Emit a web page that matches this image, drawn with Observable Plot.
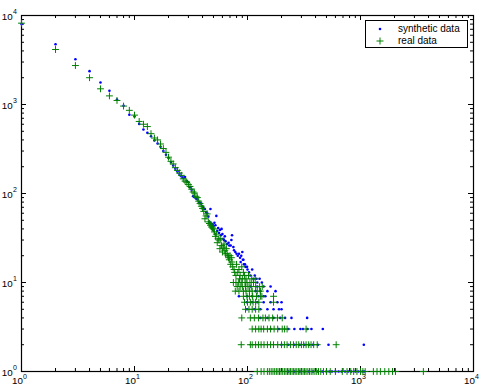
<!DOCTYPE html>
<html>
<head>
<meta charset="utf-8">
<script src="https://cdn.jsdelivr.net/npm/d3@7"></script>
<script src="https://cdn.jsdelivr.net/npm/@observablehq/plot@0.6"></script>
<style>
  html, body { margin: 0; padding: 0; background: #fff; }
  #wrap { position: relative; width: 482px; height: 389px; font-family: "Liberation Sans", Arial, Helvetica, sans-serif; }
  #legend { position: absolute; left: 365px; top: 20px; width: 101px; height: 26px; border: 1px solid #000; background: #fff; font-size: 10px; }
  #legend span { position: absolute; left: 32px; line-height: 12px; white-space: nowrap; }
  #legend svg { position: absolute; left: 0; top: 0; }
</style>
</head>
<body>
<div id="wrap"></div>
<script>
// ---- tick labels ----
const tickValues = [1, 10, 100, 1000, 10000];
const tickBase = ["10", "10", "10", "10", "10"];
const tickExponents = ["0", "1", "2", "3", "4"];

// ---- synthetic data: [degree, count] ----
const synthCurve = [
  [1,8000],[2,4760],[3,3230],[4,2370],[5,1770],[6,1425],[7,1140],[8,970],[9,766],[10,732],
  [11,605],[12,524],[13,480],[14,440],[15,395],[16,365],[17,335],[18,300],[19,272],[20,250],
  [21,226],[22,206],[23,190],[24,178],[25,166],[26,156],[27,150],[28,153],[29,138],[30,134],
  [31,118],[32,110],[33,93],[34,91],[35,88],[36,86],[37,80],[38,78],[39,77],[40,72],
  [41,68],[42,67],[43,62],[44,60],[45,55],[46,48],[47,67],[48,46],[49,45],[50,43],
  [51,47],[52,44],[53,56],[54,38],[55,41],[56,36],[57,39],[58,34],[59,40],[60,35],
  [61,31],[62,30],[63,33],[64,29],[66,27],[68,28],[69,26],[71,26],[72,30],[73,34],
  [75,25],[76,23],[78,22],[80,21],[82,20],[84,21],[86,19],[87,17],[88,20],[90,22],
  [91,18],[92,18],[93,16],[95,16],[96,15],[99,15],[100,14],[103,13],[106,12],[110,14],
  [113,11],[116,12],[120,11],[122,10],[128,11],[134,10]
];
// synthetic data at small counts: [count, degrees]
const synthLevels = [
  [9, [106, 122, 139, 160]],
  [8, [118, 130, 150, 177]],
  [7, [84, 99, 110, 125, 139, 144]],
  [6, [99, 110, 122, 139, 160, 184, 200]],
  [5, [99, 115, 130, 150, 170, 190, 200]],
  [4, [130, 150, 170, 195, 215, 245, 337]],
  [3, [160, 190, 230, 260, 294, 310, 340, 368, 464]],
  [2, [200, 230, 260, 290, 320, 350, 380, 420, 521, 1070]],
  [1, [230, 260, 290, 320, 350, 380, 420, 460, 500, 530, 560, 600, 640, 680, 730, 780, 830, 900, 960, 1040, 1080]]
];

// ---- real data: [degree, count] ----
const realCurve = [
  [1,8200],[2,4150],[3,2740],[4,2000],[5,1500],[6,1250],[7,1110],[8,960],[9,860],[10,760],
  [11,645],[12,600],[13,565],[14,470],[15,420],[16,400],[17,360],[18,320],[19,290],[20,256],
  [21,230],[22,215],[23,195],[24,182],[25,170],[26,160],[27,146],[28,138],[29,134],[30,126],
  [31,120],[32,112],[33,104],[34,101],[35,93],[36,90],[37,82],[38,77],[39,72],[40,68],
  [41,63],[42,52],[43,56],[44,59],[45,48],[46,46],[47,44],[48,42],[49,41],[50,40],
  [51,37],[52,33],[53,35],[54,28],[55,31],[56,30],[57,24],[58,31],[59,26],[60,22],
  [61,25],[62,27],[63,23],[64,21],[65,24],[66,21],[67,20],[68,19],[69,18],[70,20],
  [71,16],[72,19],[73,17],[74,15],[76,14],[77,13],[79,12],[80,16],[82,13],[84,14],
  [85,11],[86,12],[89,15],[90,11],[92,13],[94,12],[97,11],[102,12],[109,11],[117,11]
];
// real data at small counts: [count, degrees]
const realLevels = [
  [10, [75, 79, 83, 88, 95, 99, 105, 113]],
  [9, [81, 86, 90, 96, 101, 108, 118, 128, 135]],
  [8, [78, 84, 92, 97, 104, 110, 122, 130]],
  [7, [92, 99, 104, 111, 120, 130, 134, 170]],
  [6, [94, 100, 106, 112, 118, 126, 170]],
  [5, [96, 103, 110, 118, 126]],
  [4, [89, 106, 115, 125, 137, 144, 155, 167, 184, 203]],
  [3, [110, 118, 126, 132, 139, 150, 160, 172, 185, 203, 213, 224, 330]],
  [2, [88, 106, 110, 118, 125, 132, 140, 150, 160, 170, 185, 200, 212, 224, 240, 255, 270, 284, 300, 314, 330, 348, 365, 385, 414, 609]],
  [1, [122, 132, 140, 150, 156, 162, 168, 174, 180, 186, 192, 198, 205, 212, 219, 226, 233, 240, 248, 256, 264, 273, 282, 291, 300, 310, 320, 330, 342, 354, 366, 380, 395, 410, 425, 445, 470, 500, 540, 600, 690, 760, 820, 870, 930, 1000, 1050, 1100, 1300, 1400, 1500, 1640, 1780, 1920, 2040, 3600]]
];

// ---- build tables ----
const toRows = (curve, levels) => curve.map(([k, c]) => ({k, c}))
  .concat(levels.flatMap(([c, ks]) => ks.map(k => ({k, c}))));
const synth = toRows(synthCurve, synthLevels);
const real = toRows(realCurve, realLevels);

const W = 482, H = 389, mL = 21, mR = 9, mT = 15, mB = 18;
const innerH = H - mT - mB, innerW = W - mL - mR;
const minorTicks = tickValues.slice(0, -1).flatMap(v => [2,3,4,5,6,7,8,9].map(m => v * m));
const majLen = 5, minLen = 3;
const tickIdx = tickValues.map((d, i) => i);

const chart = Plot.plot({
  width: W, height: H,
  marginLeft: mL, marginRight: mR, marginTop: mT, marginBottom: mB,
  x: {type: "log", domain: [1, 1e4], axis: null},
  y: {type: "log", domain: [1, 1e4], axis: null},
  style: {fontFamily: '"Liberation Sans", Arial, Helvetica, sans-serif', fontSize: "10px", color: "#000", background: "#fff", overflow: "visible"},
  marks: [
    // inward ticks on all four sides
    Plot.tickX(tickValues, {x: d => d, insetTop: innerH - majLen, stroke: "#000"}),
    Plot.tickX(minorTicks, {x: d => d, insetTop: innerH - minLen, stroke: "#000"}),
    Plot.tickX(tickValues, {x: d => d, insetBottom: innerH - majLen, stroke: "#000"}),
    Plot.tickX(minorTicks, {x: d => d, insetBottom: innerH - minLen, stroke: "#000"}),
    Plot.tickY(tickValues, {y: d => d, insetRight: innerW - majLen, stroke: "#000"}),
    Plot.tickY(minorTicks, {y: d => d, insetRight: innerW - minLen, stroke: "#000"}),
    Plot.tickY(tickValues, {y: d => d, insetLeft: innerW - majLen, stroke: "#000"}),
    Plot.tickY(minorTicks, {y: d => d, insetLeft: innerW - minLen, stroke: "#000"}),
    Plot.frame({stroke: "#000", strokeWidth: 1.2}),
    // x tick labels
    Plot.text(tickIdx, {x: i => tickValues[i], frameAnchor: "bottom", text: i => tickBase[i], textAnchor: "end", dx: 1.5, dy: 12, fontSize: 9.8}),
    Plot.text(tickIdx, {x: i => tickValues[i], frameAnchor: "bottom", text: i => tickExponents[i], textAnchor: "start", dx: 1.5, dy: 7, fontSize: 7}),
    // y tick labels
    Plot.text(tickIdx, {y: i => tickValues[i], frameAnchor: "left", text: i => tickBase[i], textAnchor: "end", dx: -8.8, dy: 1, fontSize: 9.8}),
    Plot.text(tickIdx, {y: i => tickValues[i], frameAnchor: "left", text: i => tickExponents[i], textAnchor: "start", dx: -8.5, dy: -4, fontSize: 7}),
    // data
    Plot.dot(synth, {x: "k", y: "c", r: 1.3, fill: "#0000ff", stroke: "none"}),
    Plot.dot(real, {x: "k", y: "c", symbol: "plus", r: 2.35, stroke: "#008000", strokeWidth: 1, fill: "none"})
  ]
});

const wrap = document.getElementById("wrap");
wrap.appendChild(chart);

const legend = document.createElement("div");
legend.id = "legend";
legend.innerHTML =
  '<svg width="101" height="26">' +
  '<circle cx="14" cy="8" r="1.3" fill="#0000ff"/>' +
  '<path d="M10.5,20H17.5M14,16.5V23.5" stroke="#008000" stroke-width="1" fill="none"/>' +
  '</svg>' +
  '<span style="top:2px">synthetic data</span>' +
  '<span style="top:14px">real data</span>';
wrap.appendChild(legend);
</script>
</body>
</html>
